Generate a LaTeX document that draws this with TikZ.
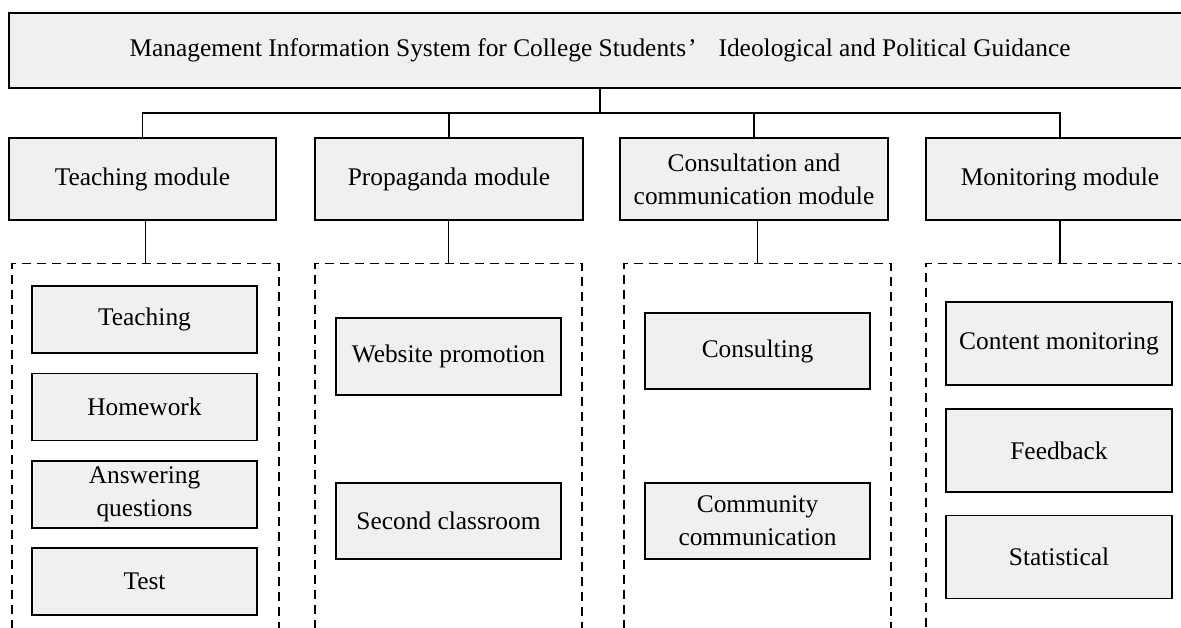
\documentclass[tikz,border=0pt]{standalone}
\usepackage{fontspec}
\setmainfont{Liberation Serif}
\definecolor{boxgray}{HTML}{F0F0F0}
\begin{document}
\begin{tikzpicture}[x=1pt,y=-1pt,
  every node/.style={inner sep=0pt, align=center, font=\fontsize{25.4}{33}\selectfont},
  solidbox/.style={draw, fill=boxgray, line width=1.2pt, rectangle},
  groupbox/.style={draw, dash pattern=on 9pt off 6pt, line width=1.2pt, rectangle},
  link/.style={line width=1.2pt}]
\useasboundingbox (0,0) rectangle (1181,628);
\clip (0,0) rectangle (1181,628);
% title
\node[solidbox, minimum width=1182pt, minimum height=75pt] (title) at (600,50.5)
  {Management Information System for College Students\hspace{2pt}’\hspace{22pt}Ideological and Political Guidance};
% modules
\node[solidbox, minimum width=267pt, minimum height=82pt] (teach) at (142.5,179) {Teaching module};
\node[solidbox, minimum width=268pt, minimum height=82pt] (prop) at (449,179) {Propaganda module};
\node[solidbox, minimum width=268pt, minimum height=82pt] (cons) at (754,179) {Consultation and\\communication module};
\node[solidbox, minimum width=268pt, minimum height=82pt] (moni) at (1060,179) {Monitoring module};
% bus
\coordinate (bus) at (600,113);
\draw[link] (title.south) -- (bus);
\draw[link] (teach.north) |- (bus);
\draw[link] (prop.north) |- (bus);
\draw[link] (cons.north) |- (bus);
\draw[link] (moni.north) |- (bus);
% dashed groups
\node[groupbox, minimum width=267pt, minimum height=400pt, anchor=north] (tg) at (145.5,263) {};
\node[groupbox, minimum width=267pt, minimum height=400pt, anchor=north] (pg) at (448.5,263) {};
\node[groupbox, minimum width=267pt, minimum height=400pt, anchor=north] (cg) at (757.5,263) {};
\node[groupbox, minimum width=268pt, minimum height=400pt, anchor=north] (mg) at (1060,263) {};
\draw[link] (teach.south -| tg.north) -- (tg.north);
\draw[link] (prop.south -| pg.north) -- (pg.north);
\draw[link] (cons.south -| cg.north) -- (cg.north);
\draw[link] (moni.south -| mg.north) -- (mg.north);
% teaching items
\node[solidbox, minimum width=225pt, minimum height=67pt] (t1) at (144.5,319.5) {Teaching};
\node[solidbox, minimum width=225pt, minimum height=67pt] (t2) at (144.5,407) {Homework};
\node[solidbox, minimum width=225pt, minimum height=67pt] (t3) at (144.5,494.5) {Answering\\questions};
\node[solidbox, minimum width=225pt, minimum height=67pt] (t4) at (144.5,581.5) {Test};
% propaganda items
\node[solidbox, minimum width=225pt, minimum height=77pt] (p1) at (448.5,356.5) {Website promotion};
\node[solidbox, minimum width=225pt, minimum height=76pt] (p2) at (448.5,521) {Second classroom};
% consultation items
\node[solidbox, minimum width=225pt, minimum height=76pt] (c1) at (757.5,351) {Consulting};
\node[solidbox, minimum width=225pt, minimum height=76pt] (c2) at (757.5,521) {Community\\communication};
% monitoring items
\node[solidbox, minimum width=226pt, minimum height=83pt] (m1) at (1059,343.5) {Content monitoring};
\node[solidbox, minimum width=226pt, minimum height=83pt] (m2) at (1059,450.5) {Feedback};
\node[solidbox, minimum width=226pt, minimum height=83pt] (m3) at (1059,557) {Statistical};
\end{tikzpicture}
\end{document}
